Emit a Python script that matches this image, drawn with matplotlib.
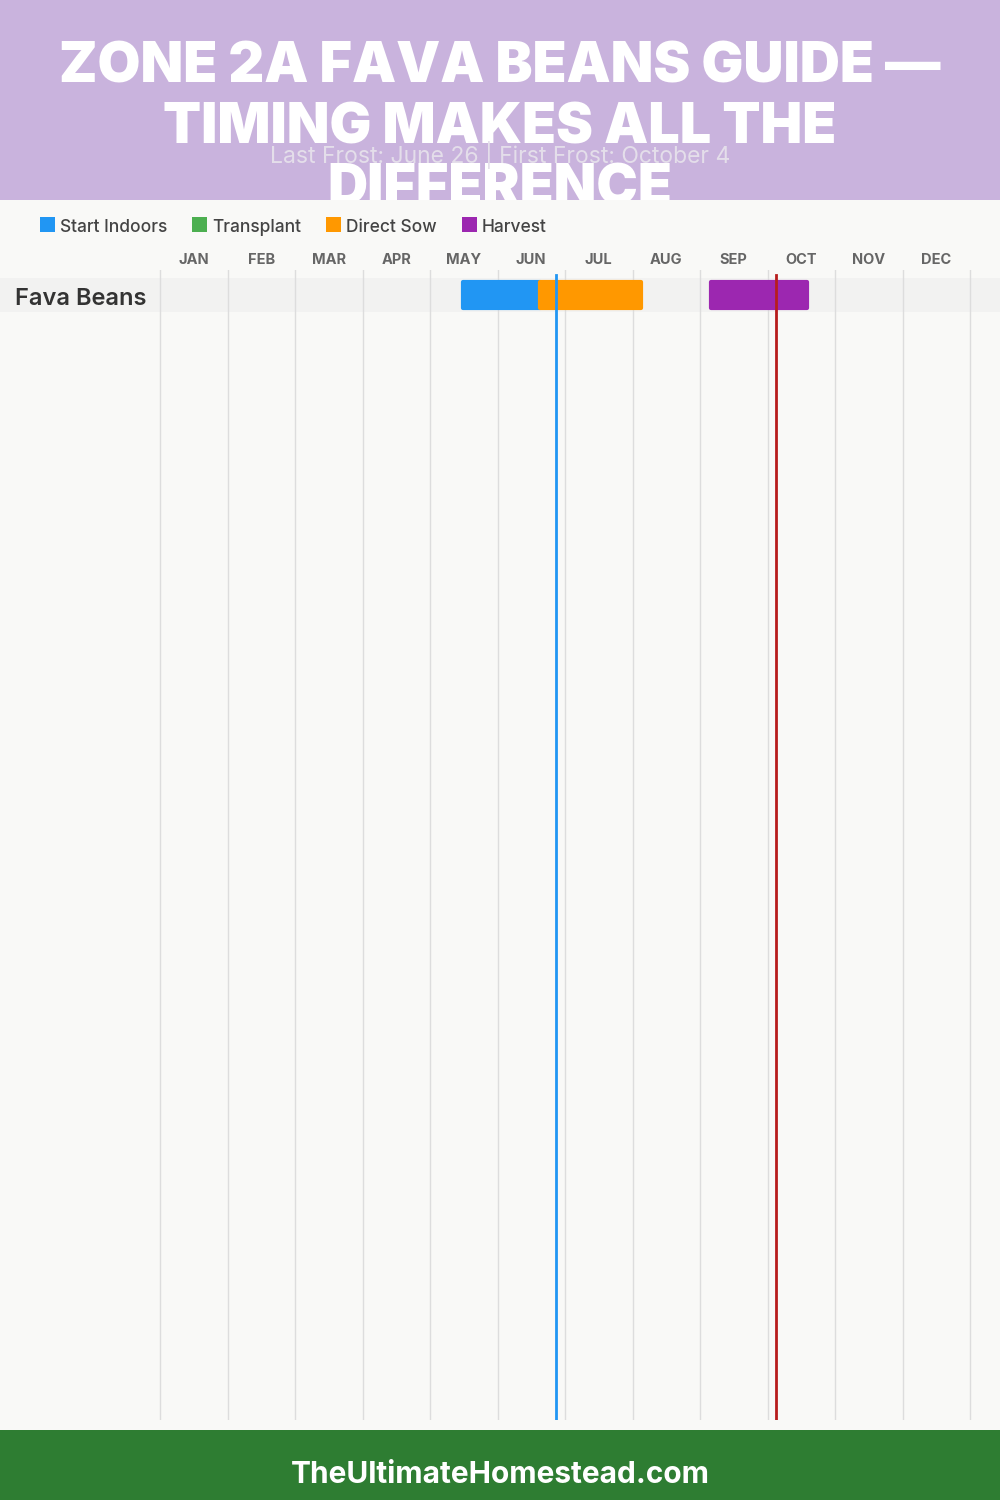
import matplotlib
matplotlib.use("Agg")
import matplotlib.pyplot as plt
from matplotlib.patches import Rectangle
from matplotlib import font_manager as fm
import matplotlib.transforms as mtrans
import calendar

# ---- data ----
title_lines = ["ZONE 2A FAVA BEANS GUIDE —", "TIMING MAKES ALL THE", "DIFFERENCE"]
subtitle = "Last Frost: June 26 | First Frost: October 4"
footer = "TheUltimateHomestead.com"
months = ["JAN", "FEB", "MAR", "APR", "MAY", "JUN", "JUL", "AUG", "SEP", "OCT", "NOV", "DEC"]
crops = ["Fava Beans"]
legend_names = ["Start Indoors", "Transplant", "Direct Sow", "Harvest"]
legend_colors = ["#2196F3", "#4CAF50", "#FF9800", "#9C27B0"]
# activity periods: (crop index, activity, start (month, day), end (month, day))
period_crop = [0, 0, 0]
period_kind = ["Start Indoors", "Direct Sow", "Harvest"]
period_start = [(5, 15), (6, 19), (9, 5)]
period_end = [(6, 19), (8, 4), (10, 18)]
last_frost = (6, 26)
first_frost = (10, 4)
YEAR = 2023


def mpos(md):
    m, d = md
    return (m - 1) + d / calendar.monthrange(YEAR, m)[1]


def font(fname, fallback_family="DejaVu Sans", weight="bold"):
    for e in fm.fontManager.ttflist:
        if e.fname.split("/")[-1] == fname:
            return fm.FontProperties(fname=e.fname)
    return fm.FontProperties(family=fallback_family, weight=weight)


F_TITLE = font("Inter-Black.otf", weight="heavy")
F_REG = font("Inter-Regular.otf", weight="normal")
F_MED = font("Inter-Medium.otf", weight="normal")
F_IBOLD = font("Inter-Bold.otf")
F_ISEMI = font("Inter-SemiBold.otf")


def fp(base, size):
    p = base.copy()
    p.set_size(size)
    return p


W, H = 1000, 1500
fig = plt.figure(figsize=(10, 15), dpi=100)
fig.patch.set_facecolor("#F9F9F7")

# header band
fig.patches.append(Rectangle((0, 1 - 200 / H), 1, 200 / H, transform=fig.transFigure,
                             facecolor="#C9B3DD", edgecolor="none", zorder=0))
for i, line in enumerate(title_lines):
    fig.text(0.5, 1 - (62 + 61 * i) / H, line, ha="center", va="center_baseline", color="white",
             fontproperties=fp(F_TITLE, 40), zorder=1)
fig.text(0.5, 1 - 155 / H, subtitle, ha="center", va="center", color="#E4DEEA",
         fontproperties=fp(F_REG, 16.5), zorder=2)
# chart background covering overflow of title
fig.patches.append(Rectangle((0, 70 / H), 1, (1430 - 200) / H, transform=fig.transFigure,
                             facecolor="#F9F9F7", edgecolor="none", zorder=1.5))
# footer
fig.patches.append(Rectangle((0, 0), 1, 70 / H, transform=fig.transFigure,
                             facecolor="#2E7D32", edgecolor="none", zorder=1.5))
fig.text(0.5, 1 - 1472 / H, footer, ha="center", va="center_baseline", color="white",
         fontproperties=fp(F_IBOLD, 21.5), zorder=3)

# legend
lx = 40
for name, col in zip(legend_names, legend_colors):
    fig.patches.append(Rectangle((lx / W, 1 - 232 / H), 15 / W, 15 / H, transform=fig.transFigure,
                                 facecolor=col, edgecolor="none", zorder=3))
    t = fig.text((lx + 20) / W, 1 - 225 / H, name, ha="left", va="center_baseline", color="#444444",
                 fontproperties=fp(F_MED, 12.5), zorder=3)
    fig.canvas.draw()
    bb = t.get_window_extent()
    lx = bb.x1 + 25

# chart axes spanning full width
top_px, bot_px = 270, 1420
ax = fig.add_axes([0, 1 - bot_px / H, 1, (bot_px - top_px) / H], zorder=2)
ax.set_facecolor("none")
px_per_month = 810 / 12
ax.set_xlim(-160 / px_per_month, 12 + 30 / px_per_month)
row_px = 34.5
row0 = 295
ax.set_ylim((bot_px - row0) / row_px, -(row0 - top_px) / row_px)
ax.axis("off")

# grid lines
for m in range(13):
    ax.axvline(m, color="#DDDDDD", lw=1, zorder=1)

# month labels
tr_month = mtrans.blended_transform_factory(ax.transData, fig.transFigure)
for i, mname in enumerate(months):
    ax.text(i + 0.5, 1 - 259 / H, mname, transform=tr_month,
            ha="center", va="center_baseline", color="#666666", fontproperties=fp(F_IBOLD, 10.5))

# row bands + labels
xl = ax.get_xlim()
tr_row = mtrans.blended_transform_factory(fig.transFigure, ax.transData)
for r, crop in enumerate(crops):
    ax.barh(r, xl[1] - xl[0], left=xl[0], height=34 / row_px, color="#F2F2F1", zorder=0.5)
    ax.text(15 / W, r + 0.03, crop, transform=tr_row, ha="left", va="center_baseline", color="#333333",
            fontproperties=fp(F_ISEMI, 17))

color_of = dict(zip(legend_names, legend_colors))
for c, kind, s, e in zip(period_crop, period_kind, period_start, period_end):
    x0, x1 = mpos(s), mpos(e)
    ax.barh(c, x1 - x0, left=x0, height=26 / row_px, color=color_of[kind],
            edgecolor=color_of[kind], linewidth=3, joinstyle="round", zorder=2)

# frost lines
fy = (275 - top_px) / (bot_px - top_px)
ax.axvline(mpos(last_frost), ymin=0, ymax=1 - fy, color="#2196F3", lw=2, zorder=3)
ax.axvline(mpos(first_frost), ymin=0, ymax=1 - fy, color="#B71C1C", lw=2, zorder=3)

fig.savefig("out.png", dpi=100, facecolor=fig.get_facecolor())
